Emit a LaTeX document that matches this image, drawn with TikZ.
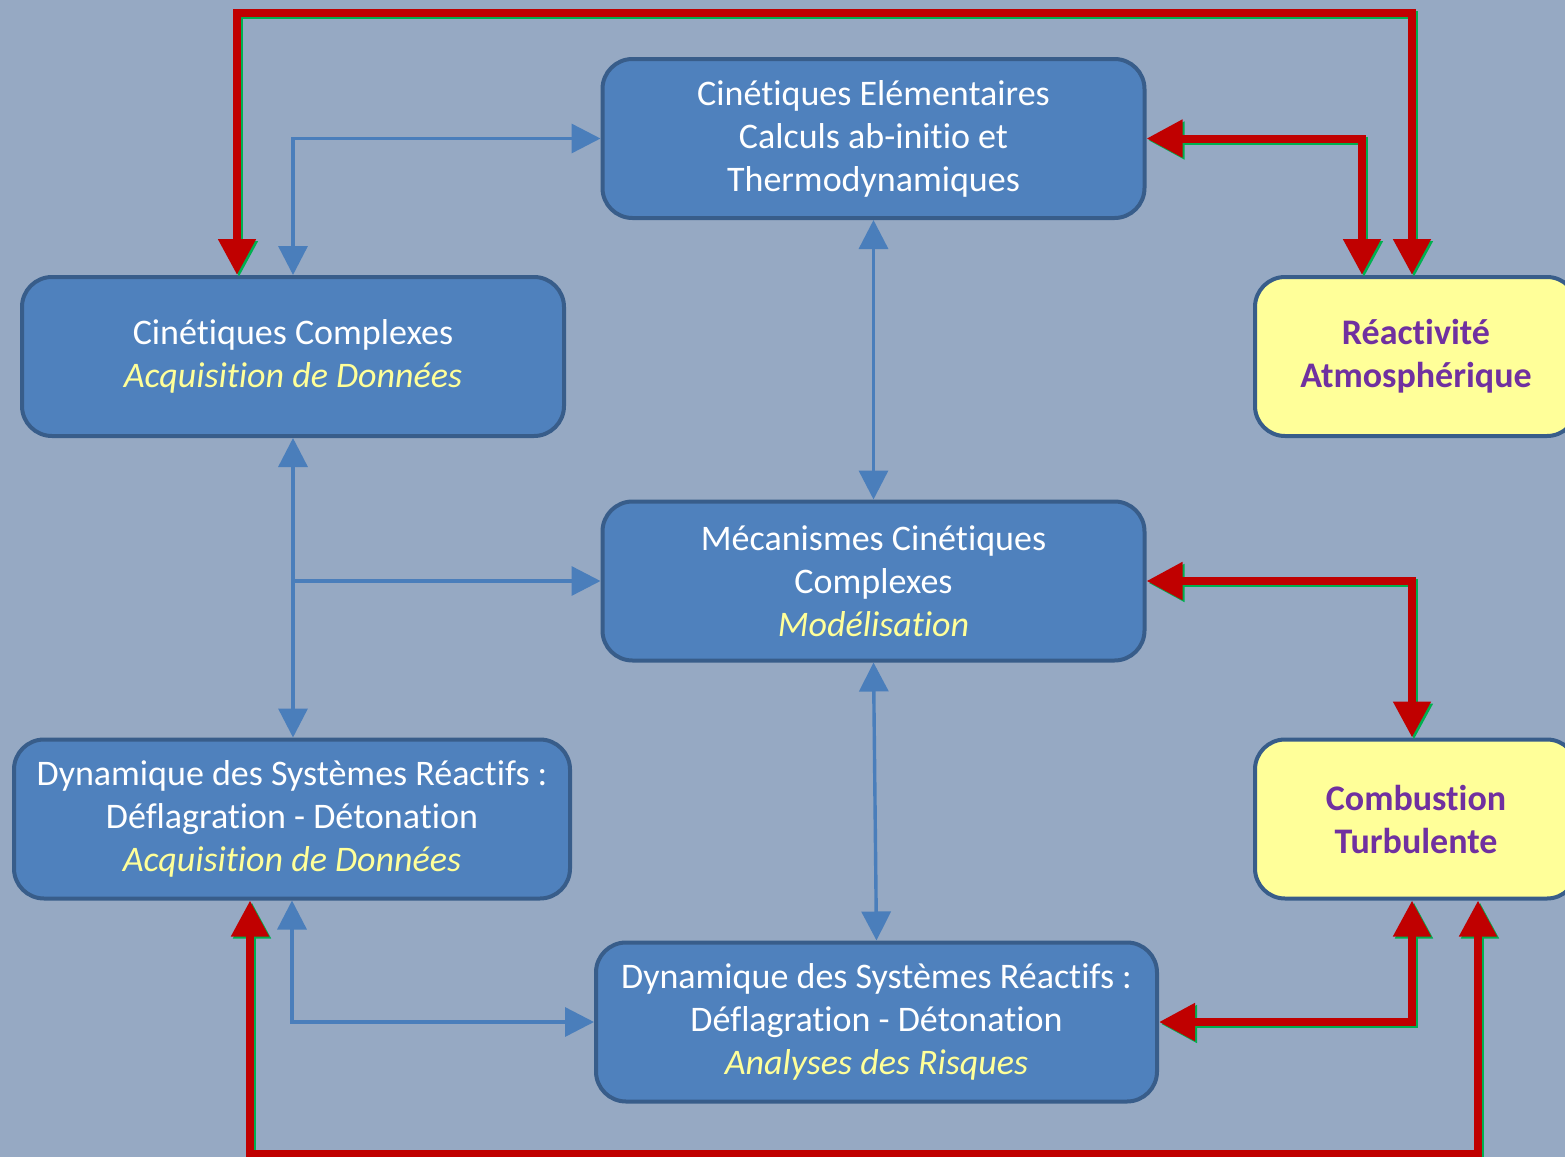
\documentclass[tikz,border=0pt]{standalone}
\usepackage{fontspec}
\setmainfont{Carlito}[Ligatures={NoCommon}]
\definecolor{SlateBack}{RGB}{150, 169, 195}
\definecolor{BoxBlue}{RGB}{79, 129, 189}
\definecolor{BoxEdge}{RGB}{56, 93, 138}
\definecolor{LinkBlue}{RGB}{74, 126, 187}
\definecolor{FeedRed}{RGB}{192, 0, 0}
\definecolor{ShadeGreen}{RGB}{0, 176, 80}
\definecolor{SoftYellow}{RGB}{255, 255, 153}
\definecolor{DeepPurple}{RGB}{112, 48, 160}
\usetikzlibrary{arrows.meta, positioning, calc}

\begin{document}
\begin{tikzpicture}[
        x=0.5pt, y=-0.5pt,
        % Styles
        block/.style={rectangle, draw=BoxEdge, line width=2pt, fill=BoxBlue, text=white, align=center, rounded corners=15pt, minimum width=271pt, minimum height=79.5pt, font=\fontsize{18}{21.5}\selectfont},
        target/.style={block, fill=SoftYellow, text=DeepPurple, minimum width=161pt, font=\fontsize{18}{21.5}\selectfont\bfseries},
        branch/.style={draw=LinkBlue, line width=1.7pt, -{Triangle[length=14.5pt, width=14.5pt]}},
        link/.style={branch, {Triangle[length=14.5pt, width=14.5pt]}-{Triangle[length=14.5pt, width=14.5pt]}},
        feed/.style={draw=FeedRed, line width=4pt, {Triangle[length=18pt, width=18pt]}-{Triangle[length=18pt, width=18pt]},
            preaction={draw=ShadeGreen, line width=4pt, transform canvas={shift={(1pt,-1pt)}}}}
    ]
        \fill [SlateBack] (0,0) rectangle (1565,1157);
        \useasboundingbox (0,0) rectangle (1565,1157);
        \clip (0,0) rectangle (1565,1157);

        % Nodes
        \node [block] (elem) at (873.5,138.5) {Cinétiques Elémentaires\\Calculs ab-initio et\\Thermodynamiques};
        \node [block] (complex) at (293,356.5) {Cinétiques Complexes\\\textcolor{SoftYellow}{\itshape Acquisition de Données}};
        \node [target] (reac) at (1416,356.5) {Réactivité\\Atmosphérique};
        \node [block] (meca) at (873.5,581) {Mécanismes Cinétiques\\Complexes\\\textcolor{SoftYellow}{\itshape Modélisation}};
        \node [block, minimum width=278pt] (dyn1) at (292,819) {Dynamique des Systèmes Réactifs :\\Déflagration - Détonation\\\textcolor{SoftYellow}{\itshape Acquisition de Données}};
        \node [target] (comb) at (1416,819) {Combustion\\Turbulente};
        \node [block, minimum width=280.5pt] (dyn2) at (876.5,1022) {Dynamique des Systèmes Réactifs :\\Déflagration - Détonation\\\textcolor{SoftYellow}{\itshape Analyses des Risques}};

        % Blue links
        \path [link] (complex.north) |- (elem.west);
        \path [link] (elem.south) -- (meca.north);
        \path [link] (complex.south) -- (complex.south |- dyn1.north);
        \path [branch] (complex.south |- meca.west) -- (meca.west);
        \path [link] (meca.south) -- (dyn2.north);
        \path [link] (dyn1.south) |- (dyn2.west);

        % Red feedback paths
        \path [feed] ([xshift=-28pt]complex.north) -- ++(0,-262) -| ([xshift=-2pt]reac.north);
        \path [feed] ([xshift=-27pt]reac.north) |- (elem.east);
        \path [feed] (meca.east) -| ([xshift=-2pt]comb.north);
        \path [feed] (dyn2.east) -| ([xshift=-2pt]comb.south);
        \path [feed] ([xshift=-21pt]dyn1.south) -- ++(0,253) -| ([xshift=31pt]comb.south);
    \end{tikzpicture}
\end{document}
